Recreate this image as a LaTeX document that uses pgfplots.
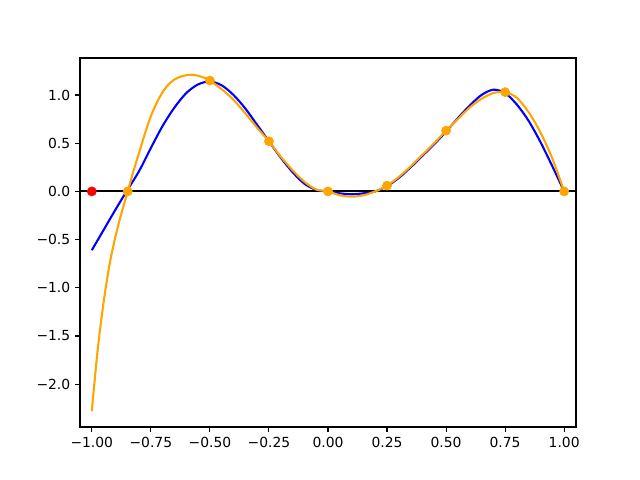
\documentclass[border=0pt]{standalone}
\usepackage{pgfplots}
\pgfplotsset{compat=1.18}
\usepackage{fontspec}
\setmainfont{DejaVu Sans}
\definecolor{mplorange}{HTML}{FFA500}
\begin{document}
\begin{tikzpicture}
\path[use as bounding box] (0,0) rectangle (460.8pt,345.6pt);
\begin{axis}[
  at={(57.6pt,38.16pt)}, anchor=south west,
  scale only axis, width=357.1pt, height=265.7pt,
  xmin=-1.05, xmax=1.05, ymin=-2.444, ymax=1.384,
  xtick={-1,-0.75,-0.5,-0.25,0,0.25,0.5,0.75,1},
  xticklabels={−1.00,−0.75,−0.50,−0.25,0.00,0.25,0.50,0.75,1.00},
  ytick={-2,-1.5,-1,-0.5,0,0.5,1},
  yticklabels={−2.0,−1.5,−1.0,−0.5,0.0,0.5,1.0},
  tick align=outside, tickpos=left,
  major tick length=3.5pt,
  every tick/.style={black, line width=0.8pt},
  axis line style={line width=0.8pt},
  tick label style={font=\fontsize{10}{12}\selectfont},
  clip=true,
]
\addplot[black, line width=1.5pt] coordinates {(-1.05,0) (1.05,0)};
\addplot[blue, line width=1.5pt, smooth] coordinates {
(-1,-0.61) (-0.95,-0.40) (-0.9,-0.19) (-0.853,0) (-0.8,0.21) (-0.75,0.45) (-0.7,0.68) (-0.65,0.87) (-0.6,1.02) (-0.55,1.11) (-0.5,1.14) (-0.45,1.10) (-0.4,1.0) (-0.35,0.86) (-0.3,0.69) (-0.25,0.52) (-0.2,0.35) (-0.15,0.20) (-0.1,0.08) (-0.05,0.015) (0,0) (0.05,-0.02) (0.1,-0.03) (0.15,-0.02) (0.2,0.0) (0.25,0.055) (0.3,0.14) (0.35,0.25) (0.4,0.37) (0.45,0.49) (0.5,0.62) (0.55,0.76) (0.6,0.89) (0.65,1.0) (0.7,1.055) (0.75,1.02) (0.8,0.90) (0.85,0.73) (0.9,0.51) (0.95,0.26) (1,0)
};
\addplot[mplorange, line width=1.5pt, smooth] coordinates {
(-1,-2.28) (-0.975,-1.64) (-0.95,-1.15) (-0.925,-0.76) (-0.9,-0.47) (-0.875,-0.23) (-0.85,-0.02) (-0.825,0.20) (-0.8,0.40) (-0.775,0.60) (-0.75,0.78) (-0.725,0.92) (-0.7,1.03) (-0.675,1.11) (-0.65,1.16) (-0.625,1.19) (-0.6,1.205) (-0.575,1.21) (-0.55,1.20) (-0.525,1.18) (-0.5,1.15) (-0.45,1.06) (-0.4,0.95) (-0.35,0.81) (-0.3,0.66) (-0.25,0.52) (-0.2,0.36) (-0.15,0.22) (-0.1,0.10) (-0.05,0.02) (0,0) (0.05,-0.04) (0.1,-0.055) (0.15,-0.04) (0.2,0.0) (0.25,0.06) (0.3,0.15) (0.35,0.26) (0.4,0.38) (0.45,0.50) (0.5,0.63) (0.55,0.75) (0.6,0.87) (0.65,0.96) (0.7,1.02) (0.75,1.03) (0.8,0.97) (0.85,0.82) (0.9,0.61) (0.95,0.34) (1,0)
};
\addplot[only marks, mark=*, mark size=3.3pt, mark options={fill=mplorange, draw=mplorange}] coordinates {
(-0.848,0) (-0.5,1.15) (-0.25,0.52) (0,0) (0.25,0.06) (0.5,0.63) (0.75,1.03) (1,0)
};
\addplot[only marks, mark=*, mark size=3.3pt, mark options={fill=red, draw=red}] coordinates {(-1,0)};
\end{axis}
\end{tikzpicture}
\end{document}
